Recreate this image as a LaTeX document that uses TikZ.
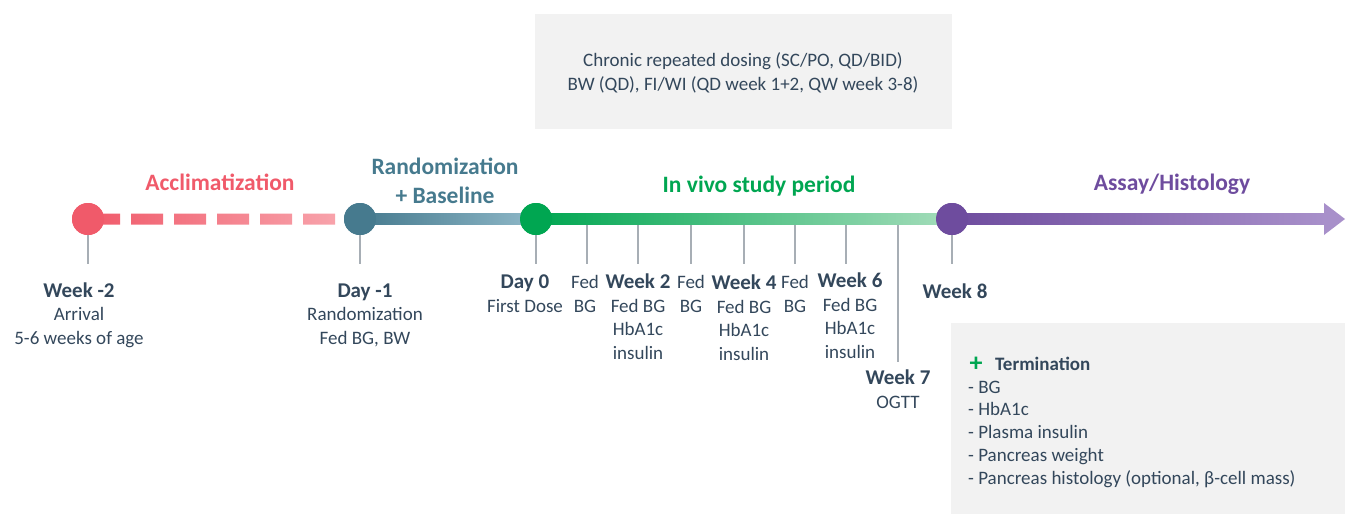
\documentclass[tikz,border=0pt]{standalone}
\usepackage{fontspec}
\setmainfont{Carlito}
\usetikzlibrary{calc, positioning}

\definecolor{accRed}{HTML}{F05A6A}
\definecolor{accPink}{HTML}{F8A5AD}
\definecolor{rndDark}{HTML}{467A8E}
\definecolor{rndLight}{HTML}{8FB8C8}
\definecolor{vivoDark}{HTML}{00A651}
\definecolor{vivoLight}{HTML}{A5DDBB}
\definecolor{assayDark}{HTML}{6E4C9E}
\definecolor{assayLight}{HTML}{A890CA}
\definecolor{boxgrey}{HTML}{F2F2F2}
\definecolor{tickgrey}{HTML}{A7AEB5}
\definecolor{txt}{HTML}{33475B}

\newcommand{\wk}[1]{{\fontsize{21}{24}\selectfont\bfseries #1}}

\begin{document}
\begin{tikzpicture}
	[
		x=1pt, y=-1pt,
		dot/.style={
				circle,
				minimum size=32pt,
				inner sep=0pt,
			},
		tick/.style={
				line width=1.4pt,
				draw=tickgrey,
			},
		lbl/.style={
				anchor=base,
				align=center,
				inner sep=0pt,
				text=txt,
				font=\fontsize{19}{23.5}\selectfont,
			},
		phase/.style={
				anchor=base,
				align=center,
				inner sep=0pt,
				font=\fontsize{23.5}{29}\selectfont\bfseries,
			},
		greyBox/.style={
				rectangle,
				fill=boxgrey,
				inner sep=0pt,
				anchor=north west,
			},
	]
	\useasboundingbox (0,0) rectangle (1351,514);

	\node [greyBox, minimum width=417pt, minimum height=115pt] (dosing) at (535,14) {};
	\node [greyBox, minimum width=394pt, minimum height=191pt] (term) at (951,323) {};

	\node [dot, fill=accRed]    (arrival) at (88,219)  {};
	\node [dot, fill=rndDark]   (rand)    at (360,219) {};
	\node [dot, fill=vivoDark]  (dose)    at (536,219) {};
	\node [dot, fill=assayDark] (wk8)     at (952,219) {};
	\coordinate (tip) at (1345,219);
	\coordinate (tickend) at (0,264);
	\coordinate (ogttend) at (0,362);
	\foreach \n/\x in {fed1/587, wk2/638, fed2/691, wk4/744, fed3/795, wk6/846, wk7/898}
		\coordinate (t\n) at (\x,219);

	\foreach \n in {arrival, rand, dose, wk8, tfed1, twk2, tfed2, twk4, tfed3, twk6}
		\draw [tick] (\n.center) -- (\n |- tickend);
	\draw [tick] (twk7) -- (twk7 |- ogttend);

	\begin{scope}
		\clip \foreach \a in {88,131,174,217,260,303} {(\a,213.5) rectangle ++(32,11)};
		\shade [left color=accRed, right color=accPink] ($(arrival.center)+(0,-5.5)$) rectangle ($(rand.west)+(0,5.5)$);
	\end{scope}
	\shade [left color=rndDark, right color=rndLight] ($(rand.center)+(0,-5.5)$) rectangle ($(dose.center)+(0,5.5)$);
	\shade [left color=vivoDark, right color=vivoLight] ($(dose.center)+(0,-5.5)$) rectangle ($(wk8.center)+(0,5.5)$);
	\shade [left color=assayDark, right color=assayLight] ($(wk8.center)+(0,-5.5)$) rectangle ($(tip)+(-20,5.5)$);
	\fill [assayLight] (tip) -- ($(tip)+(-21,-16)$) -- ($(tip)+(-21,16)$) -- cycle;

	\node [dot, fill=accRed]    at (arrival) {};
	\node [dot, fill=rndDark]   at (rand)    {};
	\node [dot, fill=vivoDark]  at (dose)    {};
	\node [dot, fill=assayDark] at (wk8)     {};

	\node [phase, text=accRed]    (acc)   at (220,190)  {Acclimatization};
	\node [phase, text=rndDark]   (base)  at (445,203)  {Randomization\\+ Baseline};
	\node [phase, text=vivoDark]  (vivo)  at (759,192)  {In vivo study period};
	\node [phase, text=assayDark] (assay) at (1172,190) {Assay/Histology};

	\node [lbl] (l-arr)  at (79,344)  {\wk{Week -2}\\Arrival\\5-6 weeks of age};
	\node [lbl] (l-rand) at (365,344) {\wk{Day -1}\\Randomization\\Fed BG, BW};
	\node [lbl] (l-dose) at (525,312) {\wk{Day 0}\\First Dose};
	\node [lbl] (l-fed1) at (585,312) {Fed\\BG};
	\node [lbl] (l-wk2)  at (638,359) {\wk{Week 2}\\Fed BG\\HbA1c\\insulin};
	\node [lbl] (l-fed2) at (691,312) {Fed\\BG};
	\node [lbl] (l-wk4)  at (744,360) {\wk{Week 4}\\Fed BG\\HbA1c\\insulin};
	\node [lbl] (l-fed3) at (795,312) {Fed\\BG};
	\node [lbl] (l-wk6)  at (850,358) {\wk{Week 6}\\Fed BG\\HbA1c\\insulin};
	\node [lbl] (l-wk7)  at (898,408) {\wk{Week 7}\\OGTT};
	\node [lbl] (l-wk8)  at (955,298) {\wk{Week 8}};

	\node [lbl] (dosetxt) at (743,90) {Chronic repeated dosing (SC/PO, QD/BID)\\BW (QD), FI/WI (QD week 1+2, QW week 3-8)};
	\node [text=vivoDark, font=\fontsize{26}{26}\selectfont\bfseries, inner sep=0pt] (plus) at (976,364) {+};
	\node [lbl, anchor=base west, align=left, font=\fontsize{19}{22.7}\selectfont] (termlist) at (968,484)
		{\hspace*{27pt}\textbf{Termination}\\- BG\\- HbA1c\\- Plasma insulin\\- Pancreas weight\\- Pancreas histology (optional, β-cell mass)};
\end{tikzpicture}
\end{document}
